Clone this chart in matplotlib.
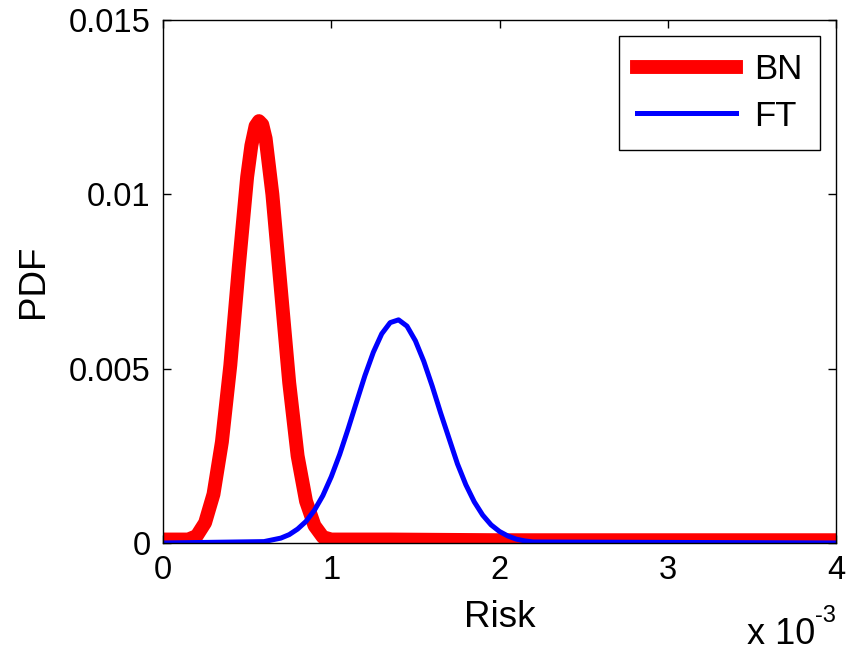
import matplotlib.pyplot as plt

plt.rcParams['font.family'] = ['Liberation Sans', 'DejaVu Sans']

# risk values in units of 1e-3, PDF values
bn_risk = [0.00, 0.10, 0.15, 0.20, 0.25, 0.30, 0.35, 0.40, 0.45, 0.50, 0.525, 0.55, 0.57,
           0.59, 0.61, 0.65, 0.70, 0.75, 0.80, 0.85, 0.90, 0.95, 1.00, 1.35, 2.00, 3.30, 4.00]
bn_pdf = [0.0001, 0.0001, 0.0001, 0.0002, 0.00058, 0.0014, 0.0029, 0.0051, 0.0079,
          0.0105, 0.0114, 0.01196, 0.0121, 0.0120, 0.0116, 0.0100, 0.0073, 0.0046,
          0.0025, 0.0012, 0.0005, 0.00017, 0.0001, 0.0001, 0.00008, 0.00008, 0.00008]

ft_risk = [0.00, 0.60, 0.70, 0.75, 0.80, 0.85, 0.90, 0.95, 1.00, 1.05, 1.10, 1.15,
           1.20, 1.25, 1.30, 1.35, 1.40, 1.45, 1.50, 1.55, 1.60, 1.65, 1.70, 1.75,
           1.80, 1.85, 1.90, 1.95, 2.00, 2.05, 2.10, 2.15, 2.20, 4.00]
ft_pdf = [0.0, 0.00004, 0.00014, 0.00024, 0.0004, 0.00062, 0.00094, 0.00136, 0.0019,
          0.00254, 0.00327, 0.00404, 0.0048, 0.00547, 0.0060, 0.00632, 0.0064, 0.00622,
          0.0058, 0.00521, 0.0045, 0.00373, 0.0030, 0.00227, 0.00167, 0.00118, 0.0008,
          0.00052, 0.00033, 0.0002, 0.00011, 0.00006, 0.00003, 0.0]

x_ticks = [0, 1, 2, 3, 4]
y_ticks = [0, 0.005, 0.01, 0.015]
y_labels = ['0', '0.005', '0.01', '0.015']

fig = plt.figure(figsize=(8.54, 6.55), dpi=100)
ax = fig.add_axes([0.1909, 0.171, 0.788, 0.7985])

ax.plot(bn_risk, bn_pdf, color='red', lw=10, label='BN', solid_joinstyle='round')
ax.plot(ft_risk, ft_pdf, color='blue', lw=3.6, label='FT')

ax.set_xlim(0, 4)
ax.set_ylim(0, 0.015)
ax.set_xticks(x_ticks)
ax.set_xticklabels([str(t) for t in x_ticks])
ax.set_yticks(y_ticks)
ax.set_yticklabels(y_labels)
ax.tick_params(direction='in', top=True, right=True, length=6, width=1,
               labelsize=23.5, pad=9)
for s in ax.spines.values():
    s.set_linewidth(1)

ax.set_xlabel('Risk', fontsize=26.5, labelpad=10)
ax.set_ylabel('PDF', fontsize=26.5, labelpad=13)

# MATLAB style exponent label under the x axis
ax.text(0.969, -0.193, 'x 10', transform=ax.transAxes, ha='right',
        va='baseline', fontsize=26)
ax.text(0.969, -0.152, '-3', transform=ax.transAxes, ha='left',
        va='baseline', fontsize=17)

leg = ax.legend(loc='upper right', fontsize=25, fancybox=False, edgecolor='black',
                framealpha=1, handlelength=2.85, handletextpad=0.55,
                labelspacing=0.39, borderaxespad=0.45, borderpad=0.5)
leg.get_frame().set_linewidth(1)

fig.savefig('out.png', dpi=100)
